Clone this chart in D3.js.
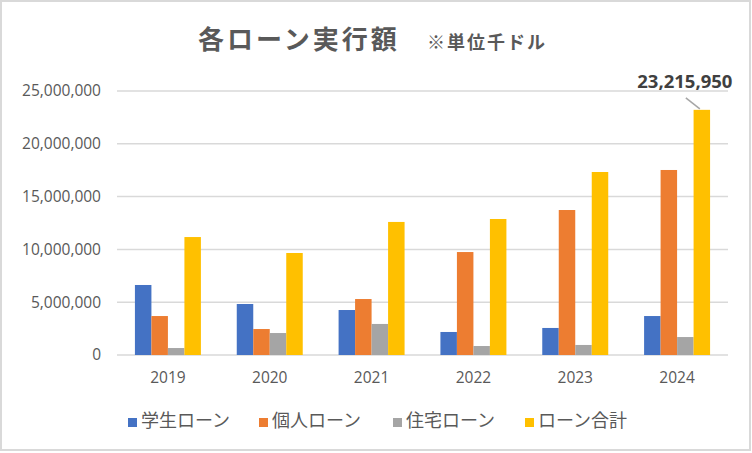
<!DOCTYPE html>
<html>
<head>
<meta charset="utf-8">
<script src="https://cdn.jsdelivr.net/npm/d3@7"></script>
<style>
  body { margin: 0; background: #fff; }
  text { font-family: "Noto Sans CJK JP", "Noto Sans", sans-serif; }
</style>
</head>
<body>
<div class="container"></div>
<script>
// data (values in 千ドル)
var years = ['2019', '2020', '2021', '2022', '2023', '2024'];
var seriesNames = ['学生ローン', '個人ローン', '住宅ローン', 'ローン合計'];
var studentLoan = [6630000, 4830000, 4260000, 2180000, 2560000, 3690000];
var personalLoan = [3690000, 2460000, 5300000, 9750000, 13730000, 17520000];
var housingLoan = [660000, 2080000, 2940000, 850000, 950000, 1700000];
var totalLoan = [11170000, 9660000, 12600000, 12880000, 17330000, 23215950];
var yTicks = [0, 5000000, 10000000, 15000000, 20000000, 25000000];

var drawChart = function () {
    const WIDTH = 752;
    const HEIGHT = 453;
    var colors = ['#4472c4', '#ed7d31', '#a5a5a5', '#ffc000'];
    var values = [studentLoan, personalLoan, housingLoan, totalLoan];

    var svg = d3.select('.container')
        .append('svg')
        .attr('width', WIDTH)
        .attr('height', HEIGHT);

    svg.append('rect')
        .attr('x', 1)
        .attr('y', 1)
        .attr('width', WIDTH - 3)
        .attr('height', 449)
        .style('fill', '#fff')
        .style('stroke', '#d9d9d9')
        .style('stroke-width', 2);

    // title
    var title = svg.append('text')
        .attr('x', 198)
        .attr('y', 49)
        .style('fill', '#595959');
    title.append('tspan')
        .text('各ローン実行額')
        .style('font-size', '26px')
        .style('font-weight', 'bold')
        .style('letter-spacing', '3px');
    title.append('tspan')
        .attr('x', 427)
        .text('※単位千ドル')
        .style('font-size', '18px')
        .style('font-weight', 'bold')
        .style('letter-spacing', '2px');

    var y = d3.scaleLinear()
        .domain([0, 25000000])
        .range([355, 91]);

    var x0 = d3.scaleBand()
        .domain(years)
        .range([117, 728])
        .paddingInner(0.352)
        .paddingOuter(0.176);

    var x1 = d3.scaleBand()
        .domain(seriesNames)
        .range([0, x0.bandwidth()]);

    // gridlines
    svg.append('g')
        .selectAll('line')
        .data(yTicks)
        .enter()
        .append('line')
        .attr('x1', 117)
        .attr('x2', 728)
        .attr('y1', d => y(d))
        .attr('y2', d => y(d))
        .style('stroke', '#d9d9d9')
        .style('stroke-width', 1.5);

    // y axis labels
    var yAxis = d3.axisLeft(y)
        .tickValues(yTicks)
        .tickFormat(d3.format(','))
        .tickSize(0)
        .tickPadding(0);
    var gy = svg.append('g')
        .attr('transform', 'translate(101,0)')
        .call(yAxis);
    gy.select('.domain').remove();
    gy.selectAll('text')
        .style('font-family', '"Open Sans", sans-serif')
        .style('font-size', '15.5px')
        .style('fill', '#595959');

    // bars
    var groups = svg.append('g')
        .selectAll('g')
        .data(years)
        .enter()
        .append('g')
        .attr('transform', d => 'translate(' + x0(d) + ',0)');

    groups.selectAll('rect')
        .data((d, i) => seriesNames.map((s, k) => ({ name: s, value: values[k][i], k: k })))
        .enter()
        .append('rect')
        .attr('x', d => x1(d.name))
        .attr('width', x1.bandwidth())
        .attr('y', d => y(d.value))
        .attr('height', d => y(0) - y(d.value))
        .style('fill', d => colors[d.k]);

    // x axis labels
    var xAxis = d3.axisBottom(x0).tickSize(0).tickPadding(0);
    var gx = svg.append('g')
        .attr('transform', 'translate(0,372)')
        .call(xAxis);
    gx.select('.domain').remove();
    gx.selectAll('text')
        .style('font-family', '"Open Sans", sans-serif')
        .style('font-size', '15.5px')
        .style('fill', '#595959');

    // data label for 2024 total
    var last = years.length - 1;
    var lx = x0(years[last]) + x1(seriesNames[3]) + x1.bandwidth() / 2;
    var ly = y(totalLoan[last]);
    svg.append('line')
        .attr('x1', lx - 16)
        .attr('y1', ly - 12)
        .attr('x2', lx - 2)
        .attr('y2', ly - 1)
        .style('stroke', '#a6a6a6')
        .style('stroke-width', 1.5);
    svg.append('text')
        .attr('x', lx - 17)
        .attr('y', ly - 22)
        .attr('text-anchor', 'middle')
        .text(d3.format(',')(totalLoan[last]))
        .style('font-family', '"Open Sans", sans-serif')
        .style('font-size', '18.5px')
        .style('font-weight', 'bold')
        .style('fill', '#404040');

    // legend
    var legendX = [128, 259, 393, 525];
    var legend = svg.append('g')
        .selectAll('g')
        .data(seriesNames)
        .enter()
        .append('g')
        .attr('transform', (d, i) => 'translate(' + legendX[i] + ',0)');
    legend.append('rect')
        .attr('x', 0)
        .attr('y', 418)
        .attr('width', 9)
        .attr('height', 9)
        .style('fill', (d, i) => colors[i]);
    legend.append('text')
        .attr('x', 13)
        .attr('y', 427)
        .text(d => d)
        .style('font-size', '18px')
        .style('fill', '#595959');
};
window.onload = drawChart;
</script>
</body>
</html>
